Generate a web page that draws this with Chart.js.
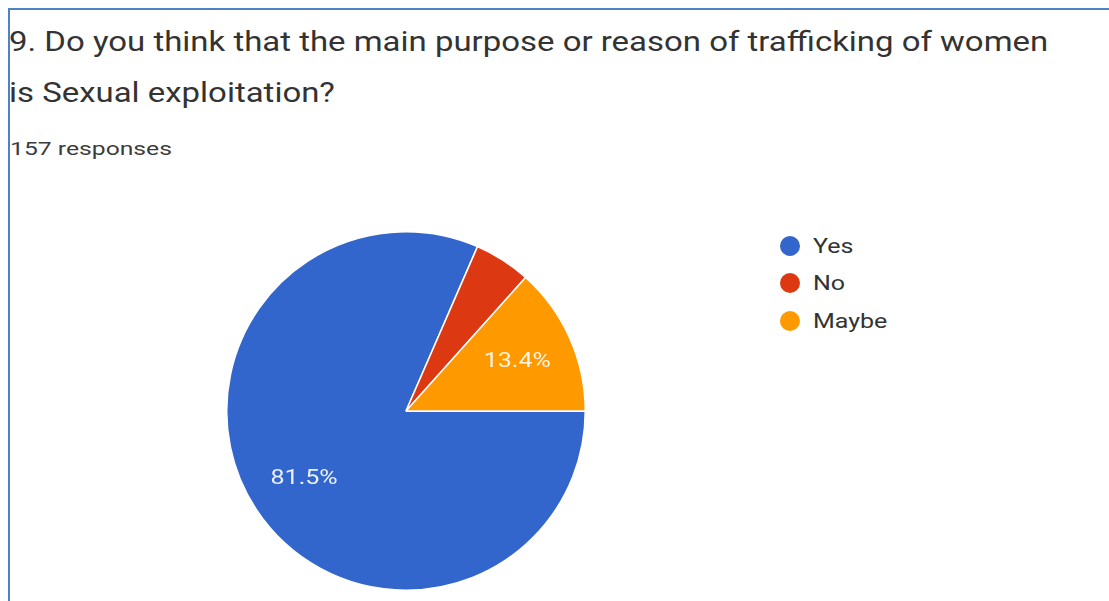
<!DOCTYPE html>
<html>
<head>
<meta charset="utf-8">
<script src="https://cdn.jsdelivr.net/npm/chart.js@4/dist/chart.umd.min.js"></script>
<style>
  html, body { margin: 0; padding: 0; background: #fff; }
  body { width: 1109px; height: 601px; position: relative; overflow: hidden; font-family: Roboto, Arial, sans-serif; }
  .frame { position: absolute; left: 8px; top: 8px; right: -10px; bottom: -10px; border-top: 2px solid #4f81c7; border-left: 2px solid #4f81c7; }
  /* the text is drawn a bit wide, so stretch it sideways */
  .wide { transform-origin: 0 0; transform: scaleX(1.22); white-space: nowrap; }
  .title { position: absolute; left: 9px; top: 17px; font-size: 27px; line-height: 51px; color: #333; }
  .count { position: absolute; left: 10px; top: 137px; font-size: 19px; color: #3c3c3c; transform: scaleX(1.3); }
  .chart { position: absolute; left: 206px; top: 211px; width: 400px; height: 400px; }
  #legend { position: absolute; left: 780px; top: 227px; margin: 0; padding: 0; list-style: none; }
  #legend li { height: 37.5px; display: flex; align-items: center; }
  #legend span { display: inline-block; width: 20px; height: 20px; border-radius: 50%; margin-right: 13px; }
  #legend em { font-style: normal; font-size: 20px; color: #333; display: inline-block; transform-origin: 0 50%; transform: scaleX(1.25); }
</style>
</head>
<body>
<div class="frame"></div>
<div class="title wide">9. Do you think that the main purpose or reason of trafficking of women<br>is Sexual exploitation?</div>
<div class="count wide">157 responses</div>
<div class="chart"><canvas id="pie"></canvas></div>
<ul id="legend"></ul>

<script>
// answers and their counts (157 in total)
const labels = ["Yes", "No", "Maybe"];
const counts = [128, 8, 21];
const colors = ["#3366cc", "#dc3912", "#ff9900"];

const total = counts.reduce((a, b) => a + b, 0);

// legend on the right
const legend = document.getElementById("legend");
labels.forEach((name, i) => {
  const li = document.createElement("li");
  li.innerHTML = `<span style="background:${colors[i]}"></span><em>${name}</em>`;
  legend.appendChild(li);
});

// percentage text inside the slices, skip the small ones
const sliceLabels = {
  id: "sliceLabels",
  afterDatasetsDraw(chart) {
    const ctx = chart.ctx;
    const arcs = chart.getDatasetMeta(0).data;
    arcs.forEach((arc, i) => {
      const pct = counts[i] / total * 100;
      if (pct < 8) return;
      const p = arc.getProps(["x", "y", "startAngle", "endAngle", "outerRadius"], true);
      const mid = (p.startAngle + p.endAngle) / 2;
      const r = p.outerRadius * 0.68;
      ctx.save();
      ctx.translate(p.x + Math.cos(mid) * r, p.y + Math.sin(mid) * r + 1);
      ctx.scale(1.25, 1);
      ctx.font = "20px Roboto, Arial, sans-serif";
      ctx.fillStyle = "rgba(255,255,255,0.9)";
      ctx.textAlign = "center";
      ctx.textBaseline = "middle";
      ctx.fillText(pct.toFixed(1) + "%", 0, 0);
      ctx.restore();
    });
  }
};

new Chart(document.getElementById("pie"), {
  type: "pie",
  data: {
    labels: labels,
    datasets: [{
      data: counts,
      backgroundColor: colors,
      borderColor: "#ffffff",
      borderWidth: 1.5
    }]
  },
  options: {
    responsive: true,
    maintainAspectRatio: false,
    animation: false,
    rotation: 90,
    layout: { padding: 20 },
    plugins: {
      legend: { display: false },
      tooltip: { enabled: false }
    }
  },
  plugins: [sliceLabels]
});
</script>
</body>
</html>
